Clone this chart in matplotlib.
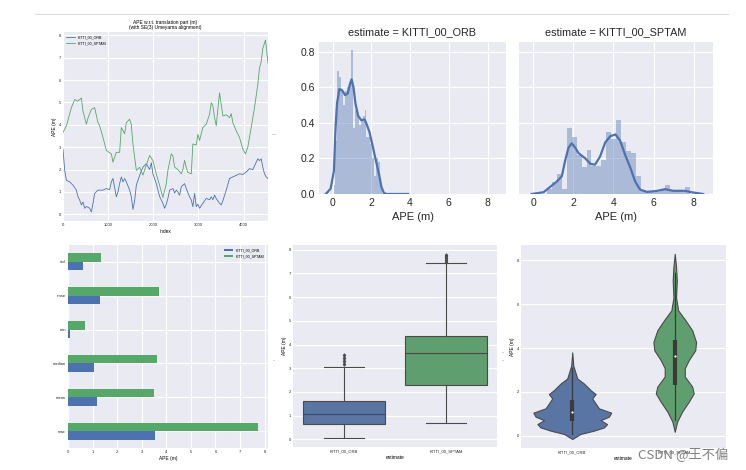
import matplotlib
matplotlib.use("Agg")
import matplotlib.pyplot as plt
import numpy as np

# APE over the trajectory
orb_idx = [0, 38, 75, 148, 221, 296, 332, 369, 407, 442, 480, 518, 591, 628, 664, 701, 774, 885, 960, 1033,
           1071, 1106, 1181, 1217, 1254, 1292, 1327, 1365, 1403, 1476, 1513, 1549, 1586, 1624, 1697, 1770, 1845,
           1918, 1956, 1991, 2066, 2139, 2212, 2250, 2288, 2323, 2361, 2434, 2471, 2509, 2544, 2582, 2619, 2692,
           2730, 2803, 2841, 2876, 2914, 2951, 2987, 3024, 3097, 3173, 3246, 3283, 3319, 3356, 3394, 3467, 3504,
           3540, 3615, 3688, 3761, 3836, 3909, 3982, 4057, 4130, 4204, 4279, 4314, 4352, 4389, 4425, 4462, 4500, 4540]
orb_ape = [2.9, 1.96, 1.52, 1.45, 1.3, 1.08, 0.78, 0.64, 0.42, 0.55, 0.27, 0.35, 0.27, 0.1, 0.49, 0.93, 1.08,
           1.08, 1.15, 1.1, 1.45, 1.6, 0.78, 1.0, 1.37, 1.67, 1.45, 1.6, 1.45, 1.08, 0.78, 0.22, 0.6, 1.3, 1.74,
           2.11, 2.26, 2.0, 2.3, 1.81, 1.37, 0.8, 0.49, 0.27, 0.45, 0.71, 1.08, 1.15, 0.95, 1.08, 1.0, 0.85, 1.23,
           1.37, 1.15, 0.78, 0.64, 0.34, 0.93, 0.34, 0.45, 0.27, 0.49, 0.71, 0.65, 0.78, 0.65, 0.86, 0.7, 0.49,
           0.42, 0.6, 1.08, 1.6, 1.67, 1.74, 1.81, 1.78, 1.89, 2.04, 2.0, 2.33, 2.48, 2.4, 2.48, 2.11, 1.81, 1.67, 1.6]
sptam_idx = [0, 75, 186, 259, 332, 407, 442, 518, 553, 628, 701, 774, 812, 885, 960, 1071, 1106, 1181, 1254,
             1292, 1365, 1403, 1476, 1513, 1549, 1624, 1697, 1770, 1845, 1918, 1991, 2066, 2139, 2212, 2288, 2323,
             2398, 2434, 2471, 2544, 2619, 2655, 2692, 2730, 2765, 2841, 2876, 2951, 2987, 3024, 3062, 3097, 3173,
             3246, 3283, 3319, 3356, 3394, 3429, 3467, 3504, 3540, 3615, 3688, 3726, 3761, 3836, 3909, 3982, 4042,
             4093, 4168, 4241, 4314, 4352, 4389, 4425, 4485, 4540]
sptam_ape = [3.66, 3.95, 4.77, 5.13, 5.06, 5.2, 4.62, 4.03, 4.3, 4.69, 4.77, 4.1, 3.95, 3.44, 2.85, 2.7, 2.33,
             2.77, 2.77, 3.88, 3.6, 4.1, 4.25, 4.0, 3.14, 1.96, 2.1, 1.75, 2.2, 2.63, 2.4, 1.8, 1.3, 0.75, 1.37,
             1.96, 2.7, 2.6, 2.11, 2.0, 1.81, 2.0, 2.41, 2.1, 1.87, 1.81, 3.14, 3.1, 3.58, 3.3, 3.6, 3.88, 4.03,
             4.47, 4.99, 4.85, 4.32, 3.96, 4.69, 5.43, 4.91, 4.4, 4.45, 4.32, 4.5, 4.1, 3.73, 3.44, 2.92, 2.7, 3.0,
             3.88, 4.77, 5.8, 6.54, 6.83, 7.42, 7.79, 6.75]

# statistics (bar chart)
stat_names = ["max", "mean", "median", "min", "rmse", "std"]
orb_stats = [3.56, 1.16, 1.06, 0.07, 1.30, 0.60]
sptam_stats = [7.75, 3.48, 3.62, 0.70, 3.72, 1.33]

# histograms (bin left edges, density) and kde curves
orb_bins = [0.05, 0.15, 0.25, 0.35, 0.45, 0.55, 0.65, 0.75, 0.85, 0.95, 1.05, 1.15, 1.25, 1.35, 1.45,
            1.55, 1.65, 1.75, 1.85, 1.95, 2.05, 2.15, 2.25, 2.35, 2.45]
orb_hist = [0.05, 0.3, 0.69, 0.66, 0.58, 0.5, 0.58, 0.6, 0.62, 0.81, 0.37, 0.47, 0.45, 0.39, 0.42,
            0.44, 0.47, 0.32, 0.32, 0.28, 0.2, 0.1, 0.2, 0.18, 0.06]
sptam_bins = [0.70, 0.945, 1.19, 1.435, 1.68, 1.925, 2.17, 2.415, 2.66, 2.905, 3.15, 3.395, 3.64, 3.885,
              4.13, 4.375, 4.62, 4.865, 5.11, 5.355, 5.6, 5.845, 6.09, 6.335, 6.58, 6.825, 7.07, 7.315, 7.56]
sptam_hist = [0.03, 0.07, 0.11, 0.03, 0.37, 0.32, 0.22, 0.15, 0.245, 0.16, 0.16, 0.19, 0.35, 0.31,
              0.415, 0.29, 0.24, 0.23, 0.1, 0.02, 0.01, 0.01, 0.01, 0.02, 0.05, 0.02, 0.02, 0.02, 0.04]
orb_kde_x = [-0.35, -0.1, 0.07, 0.15, 0.23, 0.35, 0.48, 0.65, 0.78, 0.9, 0.98, 1.08, 1.18, 1.32, 1.48,
             1.65, 1.75, 1.9, 2.07, 2.23, 2.4, 2.52, 2.65, 2.8, 3.9]
orb_kde_y = [0.0, 0.03, 0.13, 0.36, 0.51, 0.59, 0.585, 0.556, 0.565, 0.62, 0.645, 0.6, 0.51, 0.44, 0.415,
             0.42, 0.395, 0.35, 0.27, 0.19, 0.11, 0.04, 0.005, 0.0, 0.0]
sptam_kde_x = [-0.07, 0.52, 0.85, 1.18, 1.43, 1.6, 1.76, 1.92, 2.1, 2.26, 2.6, 2.85, 3.08, 3.33, 3.59, 3.84,
               4.1, 4.33, 4.58, 4.83, 5.08, 5.32, 5.65, 6.15, 6.56, 6.97, 7.55, 7.88, 8.46]
sptam_kde_y = [0.0, 0.01, 0.04, 0.07, 0.1, 0.19, 0.26, 0.285, 0.26, 0.23, 0.2, 0.17, 0.165, 0.21, 0.29,
               0.325, 0.335, 0.3, 0.22, 0.15, 0.07, 0.025, 0.012, 0.017, 0.027, 0.018, 0.018, 0.01, 0.0]

# box plot summaries
orb_box = dict(q1=0.66, med=1.07, q3=1.64, whislo=0.07, whishi=3.07, fliers=[3.2, 3.3, 3.42, 3.58])
sptam_box = dict(q1=2.3, med=3.64, q3=4.36, whislo=0.7, whishi=7.42, fliers=[7.5, 7.58, 7.65, 7.72, 7.78])

# violin outlines (value, half width)
orb_violin_y = [-0.15, 0.08, 0.23, 0.38, 0.53, 0.71, 0.87, 1.05, 1.25, 1.47, 1.70, 1.9, 2.08, 2.38, 2.61, 3.2, 3.8]
orb_violin_w = [0.0, 0.08, 0.21, 0.31, 0.34, 0.276, 0.358, 0.38, 0.26, 0.228, 0.195, 0.228, 0.179, 0.114, 0.049,
                0.01, 0.0]
sptam_violin_y = [0.18, 0.64, 1.1, 1.55, 1.93, 2.24, 2.7, 3.08, 3.45, 3.9, 4.28, 4.81, 5.27, 5.72, 6.3, 7.1, 7.7, 8.3]
sptam_violin_w = [0.0, 0.023, 0.072, 0.137, 0.185, 0.17, 0.098, 0.098, 0.137, 0.2, 0.208, 0.17, 0.104, 0.033,
                  0.013, 0.02, 0.013, 0.0]

names = ["KITTI_00_ORB", "KITTI_00_SPTAM"]
BLUE, GREEN = "#4C72B0", "#55A868"
BLUE_D, GREEN_D = "#5975A4", "#5F9E6E"
W, H = 746, 470


def px_axes(fig, x0, y0, x1, y1):
    """Add axes from pixel box (top-left origin)"""
    ax = fig.add_axes([x0 / W, (H - y1) / H, (x1 - x0) / W, (y1 - y0) / H])
    ax.set_facecolor("#EAEAF2")
    for s in ax.spines.values():
        s.set_visible(False)
    ax.tick_params(length=0, colors=".15")
    ax.set_axisbelow(True)
    ax.grid(color="white", linewidth=0.8)
    return ax


plt.rcParams["font.family"] = ["Liberation Sans", "DejaVu Sans"]
fig = plt.figure(figsize=(W / 100, H / 100), dpi=100)
fig.add_artist(plt.Line2D([35 / W, 728 / W], [1 - 14 / H, 1 - 14 / H], color="#dddddd", lw=0.8))

# --- line plot
ax1 = px_axes(fig, 63, 32, 268, 221)
ax1.plot(orb_idx, orb_ape, color=BLUE, lw=0.6, label=names[0])
ax1.plot(sptam_idx, sptam_ape, color=GREEN, lw=0.6, label=names[1])
ax1.set_xlim(0, 4540)
ax1.set_ylim(-0.3, 8.15)
ax1.set_xticks([0, 1000, 2000, 3000, 4000])
ax1.set_yticks(range(9))
ax1.tick_params(labelsize=3, pad=1.5)
ax1.set_xlabel("index", fontsize=3.5, labelpad=1.5)
ax1.set_ylabel("APE (m)", fontsize=3.5, labelpad=1.5)
ax1.set_title("APE w.r.t. translation part (m)\n(with SE(3) Umeyama alignment)", fontsize=3.5, pad=2,
              linespacing=1.1)
ax1.legend(loc="upper left", fontsize=2.6, frameon=False, handlelength=2.5)

# --- histograms + kde
for k, (x0, x1) in enumerate([(319, 506), (519, 713)]):
    ax = px_axes(fig, x0, 42, x1, 194)
    bins = [orb_bins, sptam_bins][k]
    hist = [orb_hist, sptam_hist][k]
    width = bins[1] - bins[0]
    ax.bar(bins, hist, width=width, align="edge", color=BLUE, alpha=0.4, linewidth=0)
    ax.plot([orb_kde_x, sptam_kde_x][k], [orb_kde_y, sptam_kde_y][k], color=BLUE, lw=1.6)
    ax.set_xlim(-0.7, 8.95)
    ax.set_ylim(0, 0.855)
    ax.set_xticks([0, 2, 4, 6, 8])
    ax.set_yticks([0.0, 0.2, 0.4, 0.6, 0.8])
    ax.tick_params(labelsize=7.5, pad=3)
    if k == 0:
        ax.set_yticklabels(["0.0", "0.2", "0.4", "0.6", "0.8"])
    else:
        ax.set_yticklabels([])
    ax.set_xlabel("APE (m)", fontsize=8, color=".15", labelpad=3)
    ax.set_title("estimate = " + names[k], fontsize=7.8, color=".15", pad=5)

# --- bar chart of statistics
ax4 = px_axes(fig, 68, 245, 268, 448)
pos = np.arange(len(stat_names))
ax4.barh(pos - 0.125, orb_stats, height=0.25, color=BLUE, label=names[0])
ax4.barh(pos + 0.125, sptam_stats, height=0.25, color=GREEN, label=names[1])
ax4.set_yticks(pos)
ax4.set_yticklabels(stat_names)
ax4.set_ylim(-0.5, 5.5)
ax4.set_xlim(0, 8.14)
ax4.set_xticks(range(9))
ax4.tick_params(labelsize=3, pad=1.5)
ax4.set_xlabel("APE (m)", fontsize=3.5, labelpad=1.5)
ax4.legend(loc="upper right", fontsize=2.6, frameon=False, handlelength=2.5)

# --- box plot
ax5 = px_axes(fig, 293, 245, 497, 447)
stats = []
for b, n in zip([orb_box, sptam_box], names):
    d = dict(b)
    d["label"] = n
    stats.append(d)
bp = ax5.bxp(stats, positions=[0, 1], widths=0.8, patch_artist=True,
             boxprops=dict(edgecolor="#4a4a4a", linewidth=0.8),
             medianprops=dict(color="#4a4a4a", linewidth=0.8),
             whiskerprops=dict(color="#4a4a4a", linewidth=0.8),
             capprops=dict(color="#4a4a4a", linewidth=0.8),
             flierprops=dict(marker="d", markersize=1.6, markerfacecolor="#4a4a4a", markeredgecolor="#4a4a4a"))
for patch, c in zip(bp["boxes"], [BLUE_D, GREEN_D]):
    patch.set_facecolor(c)
ax5.set_xlim(-0.5, 1.5)
ax5.set_ylim(-0.32, 8.2)
ax5.set_yticks(range(9))
ax5.grid(axis="x", visible=False)
ax5.tick_params(labelsize=3, pad=1.5)
ax5.set_xlabel("estimate", fontsize=3.5, labelpad=1.5)
ax5.set_ylabel("APE (m)", fontsize=3.5, labelpad=1.5)

# --- violin plot
ax6 = px_axes(fig, 521, 245, 726, 448)
for k, (vy, vw, b, c) in enumerate([(orb_violin_y, orb_violin_w, orb_box, BLUE_D),
                                    (sptam_violin_y, sptam_violin_w, sptam_box, GREEN_D)]):
    vy = np.array(vy)
    vw = np.array(vw)
    ax6.fill_betweenx(vy, k - vw, k + vw, facecolor=c, edgecolor="#4a4a4a", linewidth=0.8)
    ax6.plot([k, k], [b["whislo"], b["whishi"]], color="#3a3a3a", lw=0.9)
    ax6.plot([k, k], [b["q1"], b["q3"]], color="#3a3a3a", lw=3, solid_capstyle="butt")
    ax6.scatter([k], [b["med"]], s=2.5, color="white", zorder=4, linewidths=0)
ax6.set_xticks([0, 1])
ax6.set_xticklabels(names)
ax6.set_xlim(-0.5, 1.5)
ax6.set_ylim(-0.56, 8.7)
ax6.set_yticks([0, 2, 4, 6, 8])
ax6.grid(axis="x", visible=False)
ax6.tick_params(labelsize=3, pad=1.5)
ax6.set_xlabel("estimate", fontsize=3.5, labelpad=1.5)
ax6.set_ylabel("APE (m)", fontsize=3.5, labelpad=1.5)

# small blue marks between panels
for (x, y) in [(273, 135), (275, 135), (274, 361), (503, 361), (503, 353)]:
    fig.text(x / W, 1 - y / H, "-", color=BLUE, fontsize=4, ha="center", va="center")

# watermark
fig.text(728 / W, 1 - 455 / H, "CSDN @王不偏", fontsize=9.5, color="#6a6a6a", alpha=0.85,
         ha="right", va="center", family=["Noto Sans CJK SC", "DejaVu Sans"])

fig.savefig("out.png", dpi=100, facecolor="white")
